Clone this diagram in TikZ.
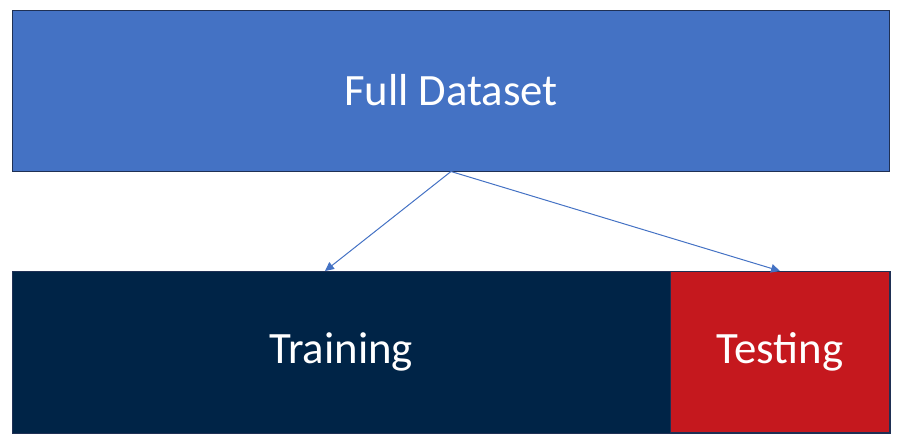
\documentclass[tikz,border=0pt]{standalone}
\usepackage{fontspec}
\setmainfont{Carlito}
\usetikzlibrary{positioning,arrows.meta}
\definecolor{fullblue}{RGB}{68,114,196}
\definecolor{trainnavy}{RGB}{0,36,71}
\definecolor{testred}{RGB}{197,24,30}
\definecolor{edgenavy}{RGB}{31,48,84}
\tikzset{
  databox/.style={draw=edgenavy, line width=0.75pt, inner sep=0pt, text=white,
    font=\fontsize{33.6}{40}\selectfont},
  splitarrow/.style={draw=fullblue, line width=0.75pt, -{Triangle[length=6.7pt,width=6.4pt]}}
}
\begin{document}
\begin{tikzpicture}[x=0.75pt,y=0.75pt,yscale=-1,xscale=1]
			\useasboundingbox (0,0) rectangle (903,444);

			% Full dataset box
			\node [databox, fill=fullblue, minimum width=877*0.75pt, minimum height=161*0.75pt, anchor=north west] (full) at (12,9.5) {Full Dataset};
			% Split boxes
			\node [databox, fill=trainnavy, draw=trainnavy, minimum width=657*0.75pt, minimum height=161*0.75pt, anchor=north west] (train) at (12,271) {Training};
			\node [databox, fill=testred, minimum width=219*0.75pt, minimum height=161*0.75pt, right=0pt of train] (test) {Testing};
			\draw [edgenavy, line width=0.75pt] (train.north west) rectangle (test.south east);
			% Arrow targets
			\coordinate (trainin) at (325,271);

			% Arrows
			\draw [splitarrow] (full.south) -- (trainin);
			\draw [splitarrow] (full.south) -- (test.north);

		\end{tikzpicture}
\end{document}
